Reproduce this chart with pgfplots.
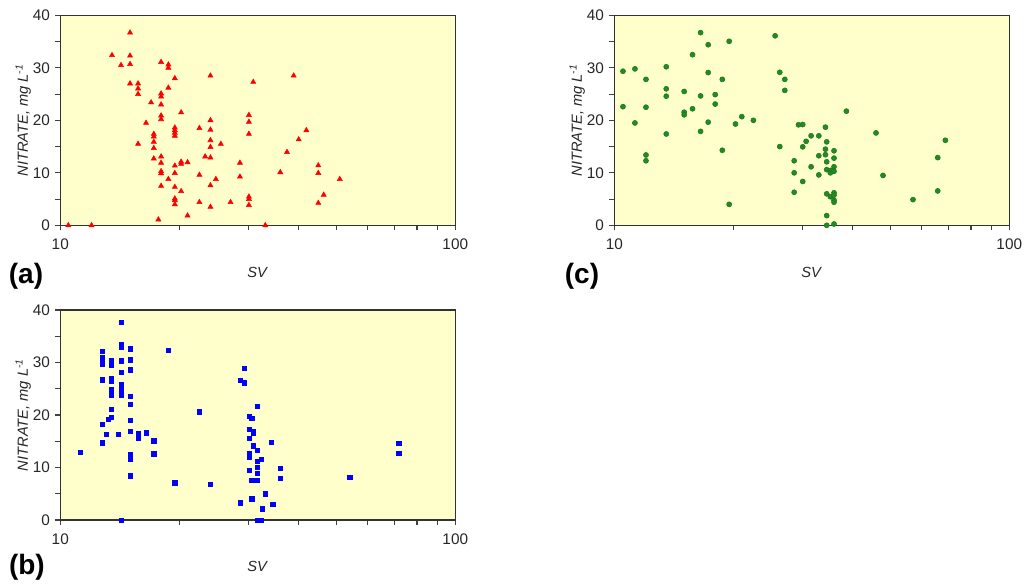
\documentclass[border=0pt]{standalone}
\usepackage{pgfplots}
\pgfplotsset{compat=1.18}
\usepackage{fontspec}
\setmainfont{Liberation Sans}
\definecolor{bgyellow}{RGB}{255,255,204}
\definecolor{mkgreen}{RGB}{34,139,34}
\pgfplotsset{
  panel/.style={
    xmin=10, xmax=100, ymin=0, ymax=40,
    scale only axis, width=296.25pt, height=157.5pt,
    xtick={10,100}, xticklabels={10,100},
    ytick={0,10,20,30,40}, minor ytick={5,15,25,35},
    xtick pos=bottom, ytick pos=left,
    tick align=outside,
    major tick length=3.75pt, minor tick length=3.75pt,
    every tick/.style={black!75, line width=0.8pt},
    axis line style={black!80, line width=1pt},
    axis background/.style={fill=bgyellow},
    tick label style={font=\fontsize{11.5}{13}\selectfont, text=black!85},
    xticklabel style={yshift=-3pt},
    yticklabel style={xshift=-0.5pt},
    /pgf/number format/assume math mode=true,
    xlabel={\textit{SV}},
    ylabel={\textit{NITRATE, mg L\textsuperscript{-1}}},
    label style={font=\fontsize{11}{13}\selectfont, text=black!85},
    xlabel style={yshift=-6pt},
    ylabel style={yshift=-5.5pt},
    clip=false,
  }
}
\begin{document}
\begin{tikzpicture}
\path[use as bounding box] (0,0) rectangle (768pt,441pt);
% (a)
\begin{semilogxaxis}[panel, at={(45.2pt,272pt)}, anchor=south west]
\addplot[only marks, mark=triangle*, mark size=2.2pt, color=red] coordinates {
(10.48,0) (12.0,0) (13.52,32.4) (14.25,30.5) (15.02,36.7) (15.02,32.3) (15.02,30.7) (15.02,27.0)
(15.74,27.0) (15.74,26.05) (15.74,25.0) (15.74,15.5) (16.49,19.5) (16.98,23.4)
(17.25,17.4) (17.25,16.9) (17.25,15.9) (17.25,14.7) (17.25,12.7) (17.72,1.1)
(18.0,31.1) (18.0,25.1) (18.0,24.5) (18.0,23.0) (18.0,20.9) (18.0,20.2) (18.0,13.1) (18.0,11.9)
(18.0,10.3) (18.0,9.9) (18.0,7.5)
(18.78,30.6) (18.78,30.0) (18.78,26.2) (18.78,8.8)
(19.5,28.0) (19.5,18.6) (19.5,18.1) (19.5,17.6) (19.5,17.05) (19.5,11.35) (19.5,9.95) (19.5,7.3)
(19.5,5.1) (19.5,4.75) (19.5,4.0)
(20.23,21.5) (20.23,12.1) (20.23,11.7) (20.23,6.5) (21.0,12.0) (21.0,1.85)
(22.5,18.5) (22.5,9.6) (22.5,4.4) (23.27,13.1)
(24.0,28.5) (24.0,20.0) (24.0,18.2) (24.0,16.2) (24.0,14.9) (24.0,12.9) (24.0,7.6) (24.0,3.5)
(24.77,8.8) (25.5,15.5) (26.98,4.4) (28.5,11.9) (28.5,9.25)
(30.03,21.0) (30.03,19.7) (30.03,17.4) (30.03,5.45) (30.03,5.0) (30.03,3.85) (30.8,27.3)
(33.04,0) (36.06,10.1) (37.5,13.95) (38.99,28.5) (40.14,16.35) (41.98,18.1)
(45.0,11.4) (45.0,9.95) (45.0,4.25) (46.45,5.8) (51.0,8.8)
};
\end{semilogxaxis}
\node[font=\fontsize{21}{24}\selectfont\bfseries] at (19.5pt,234pt) {(a)};
% (c)
\begin{semilogxaxis}[panel, at={(460.7pt,272pt)}, anchor=south west]
\addplot[only marks, mark=*, mark size=1.9pt, color=mkgreen, mark options={draw=mkgreen!85!black}] coordinates {
(10.52,29.35) (10.52,22.6) (11.28,29.8) (11.28,19.5) (12.03,27.8) (12.03,22.5) (12.03,13.4) (12.03,12.3)
(13.54,30.2) (13.54,26.0) (13.54,24.6) (13.54,17.4) (15.03,25.5) (15.03,21.55) (15.03,21.05)
(15.78,32.5) (15.78,22.2) (16.54,36.7) (16.54,24.65) (16.54,17.9) (17.29,34.4) (17.29,29.1) (17.29,19.65)
(18.01,24.9) (18.01,23.1) (18.77,27.8) (18.77,14.3) (19.54,35.05) (19.54,4.0) (20.27,19.3) (21.03,20.7)
(22.5,20.0) (25.54,36.1) (26.24,29.15) (26.24,15.0) (27.02,27.8) (27.02,25.7)
(28.54,12.3) (28.54,10.0) (28.54,6.3) (29.27,19.15) (30.0,19.2) (30.0,14.95) (30.0,8.35)
(30.6,16.0) (31.5,17.05) (31.5,11.15) (32.95,17.05) (32.95,13.25) (32.95,9.6)
(34.25,18.7) (34.25,14.5) (34.25,13.45) (34.5,15.9) (34.5,12.1) (34.5,10.6) (34.5,6.0) (34.5,1.85) (34.5,0)
(35.24,10.45) (35.24,10.0) (35.24,5.45)
(36.0,14.2) (36.0,12.8) (36.0,11.15) (36.0,10.3) (36.0,6.2) (36.0,5.75) (36.0,4.8) (36.0,4.4) (36.0,0.25)
(38.7,21.75) (45.99,17.6) (47.9,9.5) (57.05,4.9) (65.9,12.9) (65.9,6.55) (68.9,16.2)
};
\end{semilogxaxis}
\node[font=\fontsize{21}{24}\selectfont\bfseries] at (436.5pt,234pt) {(c)};
% (b)
\begin{semilogxaxis}[panel, at={(45.2pt,51pt)}, anchor=south west]
\addplot[only marks, mark=square*, mark size=1.6pt, color=blue] coordinates {
(11.24,12.9) (12.75,32.1) (12.75,30.9) (12.75,30.3) (12.75,29.7) (12.75,26.7) (12.75,18.2) (12.75,14.7)
(13.06,16.3) (13.21,19.2)
(13.49,30.4) (13.49,29.8) (13.49,29.5) (13.49,26.9) (13.49,26.5) (13.49,24.8) (13.49,24.25) (13.49,23.7)
(13.49,21.1) (13.49,19.5) (14.0,16.3)
(14.25,37.7) (14.25,33.4) (14.25,32.9) (14.25,30.35) (14.25,28.2) (14.25,25.9) (14.25,24.8) (14.25,24.3)
(14.25,23.7) (14.25,0)
(15.02,32.6) (15.02,30.5) (15.02,28.6) (15.02,23.6) (15.02,22.0) (15.02,19.0) (15.02,16.95)
(15.02,12.5) (15.02,12.1) (15.02,11.6) (15.02,8.45)
(15.77,16.4) (15.77,15.55) (16.49,16.6) (17.25,15.1) (17.25,12.6) (18.78,32.4) (19.5,7.1)
(22.5,20.6) (24.0,6.85) (28.5,26.6) (28.5,3.3) (29.28,28.95) (29.28,26.15)
(30.03,19.7) (30.03,17.3) (30.03,15.5) (30.03,12.7) (30.03,12.25) (30.03,11.9) (30.03,9.5)
(30.56,19.4) (30.56,7.6) (30.56,4.05) (30.8,16.9) (30.8,16.6) (30.8,14.15)
(31.5,21.65) (31.5,13.3) (31.5,11.2) (31.5,10.1) (31.5,8.9) (31.5,7.5) (31.5,0) (31.9,0)
(32.27,11.55) (32.27,0) (32.46,2.15) (33.04,5.0) (34.22,14.85) (34.49,3.05)
(35.98,9.85) (35.98,7.9) (54.05,8.1) (71.95,14.55) (71.95,12.7)
};
\end{semilogxaxis}
\node[font=\fontsize{21}{24}\selectfont\bfseries] at (20.2pt,15.8pt) {(b)};
\end{tikzpicture}
\end{document}
